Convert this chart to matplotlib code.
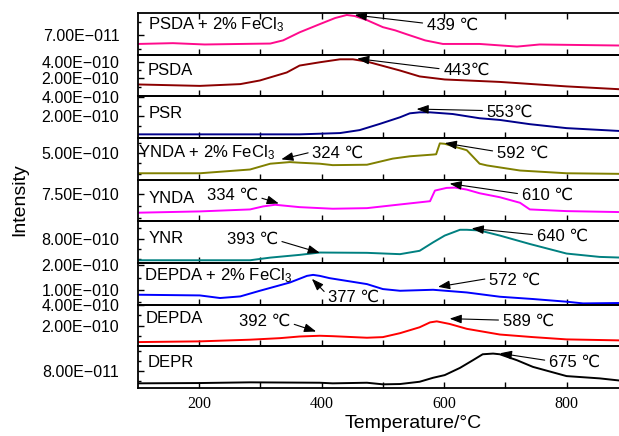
import numpy as np
import matplotlib
matplotlib.use("Agg")
import matplotlib.pyplot as plt
from matplotlib.ticker import FixedLocator, FuncFormatter, NullFormatter

plt.rcParams["font.family"] = ["Liberation Sans", "DejaVu Sans"]
plt.rcParams["mathtext.fontset"] = "custom"
plt.rcParams["mathtext.rm"] = "Liberation Sans"
plt.rcParams["mathtext.it"] = "Liberation Sans"

# Intensity values are in units of 1E-10, temperatures in degC
names = [r"PSDA + 2% FeCl$_3$", "PSDA", "PSR", r"YNDA + 2% FeCl$_3$", "YNDA",
         "YNR", r"DEPDA + 2% FeCl$_3$", "DEPDA", "DEPR"]
colors = ["#ff0a8c", "#8b0000", "#00008b", "#808000", "#ff00ff",
          "#008080", "#0000ff", "#ff0000", "#000000"]

t_psda_fe = [100, 157, 209, 283, 316, 337, 364, 397, 422, 441, 454, 474, 500, 520,
             539, 569, 598, 658, 719, 756, 822, 890]
i_psda_fe = [0.635, 0.641, 0.631, 0.636, 0.638, 0.662, 0.723, 0.785, 0.831, 0.854, 0.846,
             0.815, 0.762, 0.738, 0.708, 0.662, 0.635, 0.635, 0.615, 0.631, 0.627, 0.623]

t_psda = [100, 201, 267, 299, 343, 364, 397, 430, 451, 474, 528, 560, 601, 691, 800, 890]
i_psda = [1.29, 1.12, 1.33, 1.76, 2.71, 3.53, 3.92, 4.27, 4.27, 4.00, 2.94, 2.24, 1.88,
          1.59, 1.06, 0.71]

t_psr = [100, 364, 430, 462, 495, 528, 544, 560, 577, 614, 658, 691, 740, 800, 890]
i_psr = [0.17, 0.17, 0.30, 0.60, 1.23, 1.90, 2.30, 2.40, 2.40, 2.23, 1.80, 1.63, 1.20,
         0.80, 0.50]

t_ynda_fe = [100, 201, 283, 316, 348, 364, 397, 418, 474, 516, 544, 582, 587, 593, 601,
             637, 658, 670, 724, 800, 890]
i_ynda_fe = [4.015, 4.015, 4.20, 4.485, 4.565, 4.535, 4.485, 4.415, 4.435, 4.735, 4.85,
             4.935, 4.95, 5.485, 5.465, 5.15, 4.485, 4.40, 4.15, 4.015, 3.985]

t_ynda = [100, 201, 283, 304, 324, 364, 418, 474, 528, 577, 585, 604, 618, 637, 658, 691,
          724, 740, 800, 890]
i_ynda = [5.57, 5.70, 5.90, 6.20, 6.37, 6.13, 5.97, 6.03, 6.40, 6.73, 7.80, 8.07, 8.10,
          7.90, 7.53, 7.13, 6.57, 5.90, 5.73, 5.63]

t_ynr = [100, 283, 316, 364, 397, 474, 528, 560, 582, 601, 626, 637, 658, 691, 740, 800,
         854, 890]
i_ynr = [5.87, 5.87, 6.13, 6.40, 6.63, 6.60, 6.47, 6.80, 7.63, 8.30, 8.87, 8.87, 8.80,
         8.30, 7.47, 6.53, 6.20, 6.13]

t_depda_fe = [100, 201, 234, 267, 299, 348, 376, 386, 397, 413, 474, 500, 528, 582, 637,
              691, 745, 800, 827, 890]
i_depda_fe = [0.796, 0.768, 0.661, 0.727, 0.959, 1.298, 1.571, 1.612, 1.571, 1.477, 1.233,
              1.029, 0.959, 1.00, 0.89, 0.714, 0.62, 0.51, 0.44, 0.457]

t_depda = [100, 201, 283, 332, 364, 397, 418, 474, 500, 528, 560, 577, 588, 609, 637, 691,
           745, 800, 890]
i_depda = [0.41, 0.48, 0.64, 0.79, 0.95, 1.02, 0.98, 0.83, 0.89, 1.27, 1.84, 2.31, 2.41,
           2.16, 1.69, 1.14, 0.89, 0.67, 0.57]

t_depr = [100, 201, 283, 397, 418, 474, 500, 528, 560, 582, 601, 626, 647, 663, 680, 691,
          719, 745, 800, 854, 890]
i_depr = [0.677, 0.68, 0.687, 0.683, 0.677, 0.683, 0.667, 0.67, 0.693, 0.733, 0.76, 0.833,
          0.91, 0.97, 0.977, 0.97, 0.91, 0.843, 0.75, 0.727, 0.703]

temps = [t_psda_fe, t_psda, t_psr, t_ynda_fe, t_ynda, t_ynr, t_depda_fe, t_depda, t_depr]
values = [i_psda_fe, i_psda, i_psr, i_ynda_fe, i_ynda, i_ynr, i_depda_fe, i_depda, i_depr]

# axis ranges and ticks per panel (units of 1E-10)
ylims = [(0.554, 0.869), (-0.118, 4.82), (-0.2, 4.02), (3.7, 5.75), (4.7, 8.9),
         (5.6, 9.7), (0.388, 2.10), (0.0, 4.02), (0.63, 1.05)]
major_ticks = [[0.7], [2, 4], [2, 4], [5], [7.5], [8], [1, 2], [2, 4], [0.8]]
minor_ticks = [[0.6, 0.8], [1, 3], [1, 3], [4.0, 4.5, 5.5], [5.0, 6.25], [6, 7, 9],
               [0.5, 1.5], [1, 3], [0.7, 0.9, 1.0]]

# peak annotations
peak_panel = [0, 1, 2, 3, 3, 4, 4, 5, 5, 6, 6, 7, 7, 8]
peak_text = ["439 ℃", "443℃", "553℃", "324 ℃", "592 ℃", "334 ℃", "610 ℃", "393 ℃",
             "640 ℃", "377 ℃", "572 ℃", "392 ℃", "589 ℃", "675 ℃"]
peak_t = [454, 458, 555, 334, 601, 330, 609, 397, 645, 384, 590, 391, 609, 691]
peak_i = [0.854, 4.35, 2.73, 4.70, 5.50, 6.50, 8.50, 6.60, 9.00, 1.45, 1.12, 1.43, 2.67, 0.98]
# text offsets in pixels (dx, dy) from arrow head
peak_dx = [72, 86, 70, 31, 52, -21, 72, -42, 65, 16, 51, -26, 53, 49]
peak_dy = [-10, -12, -3, 6, -10, 8, -12, 14, -8, -18, 7, 10, -3, -9]

label_x = [0.018, 0.018, 0.02, 0.0, 0.02, 0.02, 0.01, 0.014, 0.018]
label_y = [0.71, 0.63, 0.60, 0.66, 0.56, 0.60, 0.69, 0.68, 0.62]


def sci_fmt(v, pos):
    s = f"{v * 1e-10:.2E}"
    mant, ex = s.split("E")
    ex = int(ex)
    sign = "\u2212" if ex < 0 else "+"
    return f"{mant}E{sign}{abs(ex):03d}"


W, H = 619, 436
fig = plt.figure(figsize=(W / 100, H / 100), dpi=100)
left, right = 138, 689
top, bottom = 13, 388
ph = (bottom - top) / 9

axes = []
for k in range(9):
    y0 = 1 - (top + (k + 1) * ph) / H
    ax = fig.add_axes([left / W, y0, (right - left) / W, ph / H],
                      sharex=axes[0] if axes else None)
    ax.set_facecolor("none")
    ax.plot(temps[k], values[k], color=colors[k], lw=1.4)
    ax.set_xlim(100, 1000)
    ax.set_ylim(*ylims[k])
    ax.yaxis.set_major_locator(FixedLocator(major_ticks[k]))
    ax.yaxis.set_minor_locator(FixedLocator(minor_ticks[k]))
    ax.yaxis.set_major_formatter(FuncFormatter(sci_fmt))
    ax.xaxis.set_major_locator(FixedLocator([200, 400, 600, 800]))
    ax.xaxis.set_minor_locator(FixedLocator([300, 500, 700, 900]))
    ax.tick_params(axis="y", which="both", direction="in", labelsize=11.5, pad=13.5,
                   width=1)
    ax.tick_params(axis="y", which="major", length=4)
    ax.tick_params(axis="y", which="minor", length=2.5)
    ax.tick_params(axis="x", which="both", direction="in", length=4, width=1,
                   top=(k == 0))
    for sp in ax.spines.values():
        sp.set_linewidth(1.3)
    if k < 8:
        ax.tick_params(axis="x", labelbottom=False)
    else:
        ax.tick_params(axis="x", labelsize=11.5, pad=6)
        for lab in ax.get_xticklabels():
            lab.set_fontfamily("Liberation Serif")
    ax.text(label_x[k], label_y[k], names[k], transform=ax.transAxes, fontsize=12,
            ha="left", va="center")
    axes.append(ax)

for n in range(len(peak_text)):
    ax = axes[peak_panel[n]]
    ha = "left" if peak_dx[n] > 0 else "right"
    rel = (0, 0.6) if ha == "left" else (1, 0.4)
    ax.annotate(peak_text[n], xy=(peak_t[n], peak_i[n]),
                xytext=(peak_dx[n] * 0.72, peak_dy[n] * 0.72), textcoords="offset points",
                ha=ha, va="center", fontsize=12,
                arrowprops=dict(arrowstyle="-|>,head_length=0.6,head_width=0.22",
                                color="black", lw=0.8, shrinkA=1, shrinkB=0,
                                relpos=rel))

axes[-1].set_xlabel("Temperature/°C", fontsize=14, labelpad=2)
fig.text(20 / W, 1 - 200 / H, "Intensity", rotation=90, fontsize=14,
         ha="center", va="center")

fig.savefig("out.png", dpi=100)
